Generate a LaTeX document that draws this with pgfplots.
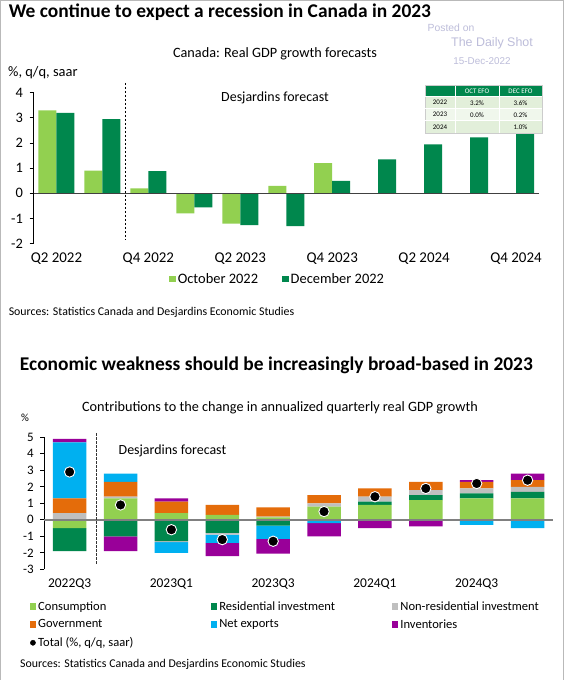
\documentclass[border=0pt]{standalone}
\usepackage{fontspec}
\setmainfont{Carlito}
\newfontfamily\wmfont{Liberation Sans}
\usepackage{pgfplots}
\usepackage{pgfplotstable}
\pgfplotsset{compat=1.18}
\definecolor{lg}{HTML}{92D050}
\definecolor{dg}{HTML}{00874D}
\definecolor{gr}{HTML}{BFBFBF}
\definecolor{og}{HTML}{E46C0A}
\definecolor{bl}{HTML}{00B0F0}
\definecolor{pu}{HTML}{990099}
\definecolor{wm}{HTML}{BDBDDA}
\definecolor{tabhd}{HTML}{00874D}
\definecolor{tabr1}{HTML}{E2EFDA}
\definecolor{tabr2}{HTML}{F0F7EC}
\pgfplotsset{sqleg/.style={legend image code/.code={\fill[##1,draw=none] (0bp,-3.3bp) rectangle (6.6bp,3.3bp);}}}
\pgfplotstableread{
x cons res nonres gov netx inv total
0 -0.5 -1.4 0.4 0.9 3.4 0.2 2.9
1 1.3 -1.0 0.1 0.9 0.5 -0.9 0.9
2 0.4 -1.3 -0.05 0.7 -0.65 0.2 -0.6
3 0.3 -0.8 -0.1 0.6 -0.5 -0.8 -1.2
4 0.15 -0.35 0.05 0.55 -0.8 -0.9 -1.3
5 0.8 0.0 0.2 0.5 -0.2 -0.8 0.5
6 0.9 0.2 0.3 0.5 0.0 -0.5 1.4
7 1.2 0.3 0.3 0.5 0.0 -0.4 1.9
8 1.3 0.3 0.3 0.4 -0.3 0.1 2.2
9 1.3 0.4 0.3 0.4 -0.5 0.4 2.4
}\bdata
\begin{document}
\begin{tikzpicture}[x=1bp,y=1bp]
\path[use as bounding box, fill=white] (0,0) rectangle (564,680);
\draw[gray!55, line width=1.4bp] (0.7,0) -- (0.7,679.3) -- (563.3,679.3) -- (563.3,0);
% titles and texts
\node[anchor=west, inner sep=0] at (8.6,667.3) {\fontsize{19.5}{22}\selectfont\bfseries We continue to expect a recession in Canada in 2023};
\node[inner sep=0, text=wm] at (451,652.3) {\wmfont\fontsize{10.4}{12}\selectfont Posted on};
\node[inner sep=0, text=wm] at (492,636.7) {\wmfont\fontsize{12.5}{14}\selectfont The Daily Shot};
\node[inner sep=0, text=wm] at (482,618.7) {\wmfont\fontsize{9.9}{11}\selectfont 15-Dec-2022};
\node[inner sep=0] at (275,626.7) {\fontsize{14.3}{16}\selectfont Canada: Real GDP growth forecasts};
\node[anchor=west, inner sep=0] at (8,607.3) {\fontsize{14.5}{16}\selectfont \%, q/q, saar};
\node[anchor=west, inner sep=0] at (8.6,368) {\fontsize{11.9}{13}\selectfont Sources: Statistics Canada and Desjardins Economic Studies};
\node[anchor=west, inner sep=0] at (19.8,315) {\fontsize{19.5}{22}\selectfont\bfseries Economic weakness should be increasingly broad-based in 2023};
\node[inner sep=0] at (280,272) {\fontsize{14.3}{16}\selectfont Contributions to the change in annualized quarterly real GDP growth};
\node[inner sep=0] at (25,262) {\fontsize{11}{12}\selectfont \%};
\node[anchor=west, inner sep=0] at (20,16) {\fontsize{11.9}{13}\selectfont Sources: Statistics Canada and Desjardins Economic Studies};

% ---------- top chart
\begin{axis}[
  at={(33.5bp,436.3bp)}, anchor=south west, scale only axis,
  width=505.5bp, height=151bp,
  xmin=-0.5, xmax=10.5, ymin=-2, ymax=4, enlargelimits=false,
  ybar=0pt, bar width=18bp,
  axis y line*=left, axis x line*=bottom,
  x axis line style={draw=none}, y axis line style={-, black, line width=0.8bp},
  xtick={0,2,4,6,8,10},
  xticklabels={Q2 2022,Q4 2022,Q2 2023,Q4 2023,Q2 2024,Q4 2024},
  xtick style={draw=none},
  ytick={-2,-1,0,1,2,3,4},
  tick align=outside,
  ytick style={black, line width=0.8bp},
  major tick length=4bp,
  /pgf/number format/assume math mode=true,
  yticklabel style={font=\fontsize{14.5}{16}\selectfont, xshift=-3bp},
  xticklabel style={font=\fontsize{15}{17}\selectfont, yshift=-1.5bp},
  clip=false,
  legend columns=2,
  legend style={at={(0.268,-0.234)}, anchor=west, draw=none, fill=none,
    font=\fontsize{14.5}{16}\selectfont, inner sep=0pt,
    /tikz/every even column/.append style={column sep=22bp}},
]
\addplot[fill=lg, draw=none, sqleg] coordinates {(0,3.3) (1,0.9) (2,0.2) (3,-0.8) (4,-1.2) (5,0.3) (6,1.2)};
\addlegendentry{October 2022}
\addplot[fill=dg, draw=none, sqleg] coordinates {(0,3.2) (1,2.95) (2,0.88) (3,-0.56) (4,-1.26) (5,-1.3) (6,0.5) (7,1.35) (8,1.95) (9,2.22) (10,2.45)};
\addlegendentry{December 2022}
\draw[black!75, line width=0.8bp] (axis cs:-0.5,0) -- (axis cs:10.5,0);
\draw[black, line width=1bp, dash pattern=on 2.5bp off 1.5bp] (axis cs:1.5,4.39) -- (axis cs:1.5,-1.83);
\node[inner sep=0] at (axis cs:4.755,3.79) {\fontsize{14}{16}\selectfont Desjardins forecast};
\end{axis}

% table inset
\begin{scope}
\fill[tabhd] (425,583.3) rectangle (542,594.3);
\fill[tabr1] (425,571.3) rectangle (542,583.3);
\fill[tabr2] (425,559.3) rectangle (542,571.3);
\fill[tabr1] (425,546.7) rectangle (542,559.3);
\draw[gray!40, line width=0.5bp] (425,546.7) rectangle (542,594.3);
\draw[white, line width=0.5bp] (425,583.3) -- (542,583.3) (425,571.3) -- (542,571.3) (425,559.3) -- (542,559.3)
  (455,546.7) -- (455,594.3) (499,546.7) -- (499,594.3);
\tikzset{tt/.style={inner sep=0, font=\fontsize{7}{8}\selectfont}}
\node[tt, text=white] at (477,588.8) {OCT EFO};
\node[tt, text=white] at (520.5,588.8) {DEC EFO};
\node[tt] at (440,577.3) {2022};
\node[tt] at (477,577.3) {3.2\%};
\node[tt] at (520.5,577.3) {3.6\%};
\node[tt] at (440,565.3) {2023};
\node[tt] at (477,565.3) {0.0\%};
\node[tt] at (520.5,565.3) {0.2\%};
\node[tt] at (440,553) {2024};
\node[tt] at (520.5,553) {1.0\%};
\end{scope}

% ---------- bottom chart: bars
\begin{axis}[
  at={(44.2bp,110.7bp)}, anchor=south west, scale only axis,
  width=508.8bp, height=132bp,
  xmin=-0.5, xmax=9.5, ymin=-3, ymax=5, enlargelimits=false,
  ybar stacked, stack negative=separate, bar width=33.5bp,
  axis y line*=left, axis x line*=bottom,
  x axis line style={draw=none}, y axis line style={-, black, line width=0.8bp},
  xtick={0,2,4,6,8},
  xticklabels={2022Q3,2023Q1,2023Q3,2024Q1,2024Q3},
  xtick style={draw=none},
  ytick={-3,-2,-1,0,1,2,3,4,5},
  tick align=outside,
  ytick style={black, line width=0.8bp},
  major tick length=4bp,
  /pgf/number format/assume math mode=true,
  yticklabel style={font=\fontsize{13}{15}\selectfont, xshift=-3bp},
  xticklabel style={font=\fontsize{13.5}{15}\selectfont, yshift=-2bp},
  clip=false,
]
\addplot[fill=lg, draw=none] table[x=x,y=cons] {\bdata};
\addplot[fill=dg, draw=none] table[x=x,y=res] {\bdata};
\addplot[fill=gr, draw=none] table[x=x,y=nonres] {\bdata};
\addplot[fill=og, draw=none] table[x=x,y=gov] {\bdata};
\addplot[fill=bl, draw=none] table[x=x,y=netx] {\bdata};
\addplot[fill=pu, draw=none] table[x=x,y=inv] {\bdata};
\end{axis}

% ---------- bottom chart: totals, zero line, legend
\begin{axis}[
  at={(44.2bp,110.7bp)}, anchor=south west, scale only axis,
  width=508.8bp, height=132bp,
  xmin=-0.5, xmax=9.5, ymin=-3, ymax=5, enlargelimits=false,
  hide axis, clip=false,
  legend columns=3, legend cell align=left,
  legend style={at={(-0.029,-0.226)}, anchor=north west, draw=none, fill=none,
    font=\fontsize{12.6}{14}\selectfont, inner sep=0pt, row sep=3.9bp},
]
\draw[black!50, line width=1.4bp] (axis cs:-0.5,0) -- (axis cs:9.5,0);
\draw[black!80, line width=1bp, dash pattern=on 2.5bp off 1.5bp] (axis cs:0.53,5.26) -- (axis cs:0.53,-2.68);
\node[anchor=west, inner sep=0] at (axis cs:0.96,4.19) {\fontsize{14}{16}\selectfont Desjardins forecast};
\addlegendimage{fill=lg, draw=none, sqleg}
\addlegendentry{\makebox[170.5bp][l]{Consumption}}
\addlegendimage{fill=dg, draw=none, sqleg}
\addlegendentry{\makebox[170.5bp][l]{Residential investment}}
\addlegendimage{fill=gr, draw=none, sqleg}
\addlegendentry{Non-residential investment}
\addlegendimage{fill=og, draw=none, sqleg}
\addlegendentry{\makebox[170.5bp][l]{Government}}
\addlegendimage{fill=bl, draw=none, sqleg}
\addlegendentry{\makebox[170.5bp][l]{Net exports}}
\addlegendimage{fill=pu, draw=none, sqleg}
\addlegendentry{Inventories}
\addplot[only marks, mark=*, mark size=5.2bp, mark options={fill=black, draw=white, line width=0.9bp},
  legend image code/.code={\fill[black] (3.3bp,0bp) circle (2.6bp);}]
  table[x=x,y=total] {\bdata};
\addlegendentry{Total (\%, q/q, saar)}
\end{axis}
\end{tikzpicture}
\end{document}
